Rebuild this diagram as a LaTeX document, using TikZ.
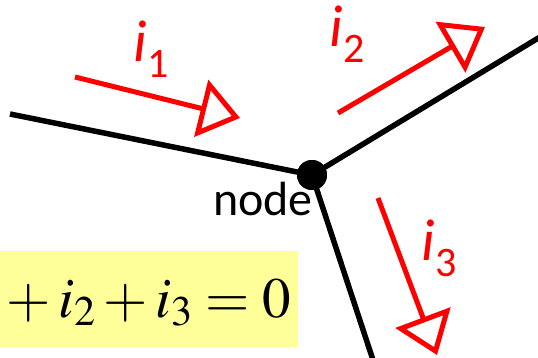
\documentclass[tikz,border=0pt]{standalone}
\usepackage{mathptmx}
\usepackage[no-math]{fontspec}
\setmainfont{Carlito}
\usetikzlibrary{arrows.meta}
\definecolor{eqyellow}{RGB}{255,255,153}
\definecolor{curred}{RGB}{255,0,0}
\newcommand{\curlab}[1]{{\fontsize{59}{59}\selectfont\itshape i}\kern1pt\raisebox{-16pt}{\fontsize{42}{42}\selectfont #1}}
\tikzset{
  wire/.style={line width=5.5pt, black},
  current/.style={line width=5pt, curred, -{Triangle[open, length=40pt, width=58pt]}},
  curtext/.style={text=curred, inner sep=0pt, anchor=base west},
}
\begin{document}
\begin{tikzpicture}[x=1pt, y=-1pt]
\useasboundingbox (0,0) rectangle (538,358);
% equation box
\node[fill=eqyellow, minimum width=298pt, minimum height=96pt, inner sep=0pt, anchor=north west] (box) at (0,251) {};
\node[inner sep=0pt, anchor=base west] (eq) at (-2,317) {\fontsize{57}{57}\selectfont $\mathord{}+i_2+i_3=0$};
% wires
\node[circle, fill=black, minimum size=30pt, inner sep=0pt] (n) at (312,175) {};
\coordinate (wl) at (10,114);
\coordinate (wr) at (540,37);
\coordinate (wb) at (373,360);
\draw[wire] (wl) -- (n.center);
\draw[wire] (wr) -- (n.center);
\draw[wire] (wb) -- (n.center);
\node[circle, fill=black, minimum size=30pt, inner sep=0pt] at (n) {};
\node[inner sep=0pt, anchor=base west] (nl) at (213,215) {\fontsize{48}{48}\selectfont node};
% currents
\coordinate (c1s) at (75,77);
\coordinate (c1e) at (240,118);
\coordinate (c2s) at (338,113);
\coordinate (c2e) at (485,27);
\coordinate (c3s) at (378,198);
\coordinate (c3e) at (437,355);
\draw[current] (c1s) -- (c1e);
\draw[current] (c2s) -- (c2e);
\draw[current] (c3s) -- (c3e);
\node[curtext] (l1) at (133,62) {\curlab{1}};
\node[curtext] (l2) at (329,47) {\curlab{2}};
\node[curtext] (l3) at (421,260) {\curlab{3}};
\end{tikzpicture}
\end{document}
